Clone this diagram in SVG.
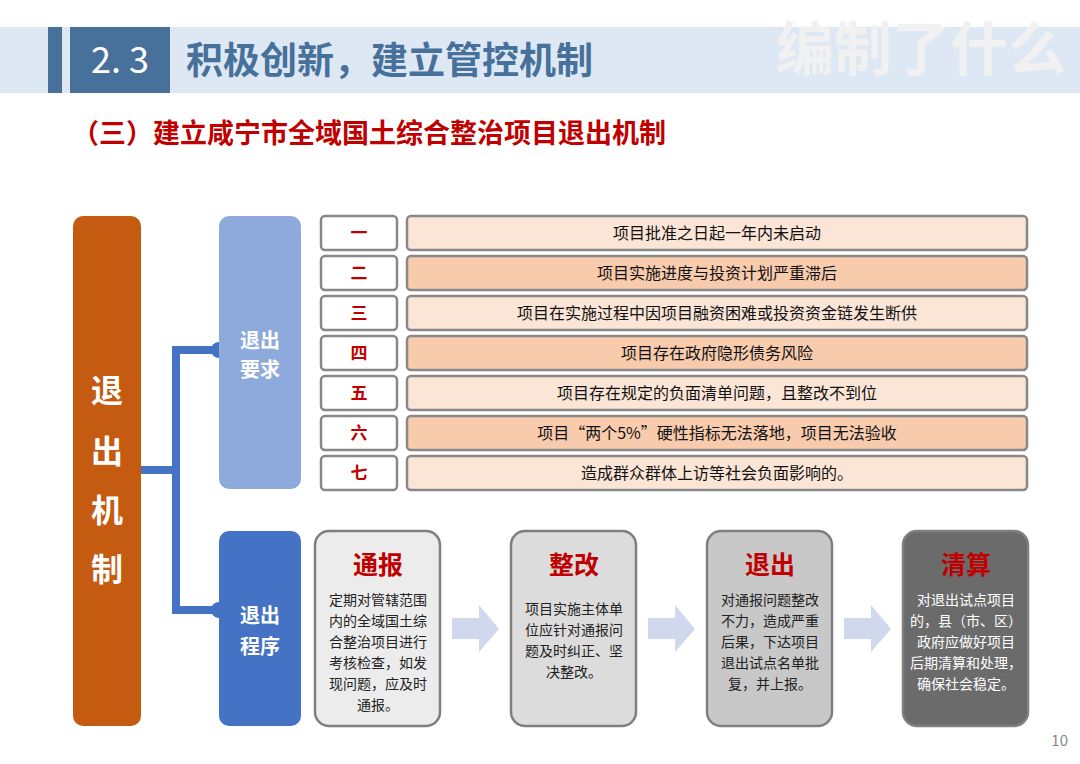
<svg xmlns="http://www.w3.org/2000/svg" width="1080" height="764" viewBox="0 0 1080 764">
<style>
text{font-family:"Noto Sans CJK SC","Liberation Sans",sans-serif}
.num{fill:#fff;stroke:#888;stroke-width:2.5}
.nt{fill:#c00000;font-size:17px;font-weight:bold;text-anchor:middle}
.la{fill:#fbe5d6;stroke:#888;stroke-width:2.5}
.lb{fill:#f8cbad;stroke:#888;stroke-width:2.5}
.ct{fill:#111;font-size:16px;text-anchor:middle}
.card{stroke:#7f7f7f;stroke-width:2.5}
.ch{fill:#c00000;font-size:25px;font-weight:bold;text-anchor:middle}
.cb{fill:#222;font-size:14px;text-anchor:middle}
.wt{fill:#fff;font-weight:bold;text-anchor:middle}
</style>
<rect width="1080" height="764" fill="#fff"/>
<rect x="0" y="27" width="1080" height="66" fill="#dde8f4"/>
<rect x="48" y="27" width="14" height="66" fill="#47709b"/>
<rect x="70" y="27" width="100" height="66" fill="#47709b"/>
<text x="120" y="73" font-size="36" fill="#fff" text-anchor="middle" font-family="Liberation Sans">2. 3</text>
<text x="186" y="74" font-size="37" font-weight="bold" fill="#47709b">积极创新，建立管控机制</text>
<text x="1066" y="70" font-size="58" font-weight="bold" fill="#f1f1f1" text-anchor="end">编制了什么</text>
<text x="72" y="143" font-size="27" font-weight="bold" fill="#c00000">（三）建立咸宁市全域国土综合整治项目退出机制</text>
<g id="connectors" fill="none" stroke="#4472c4" stroke-width="8">
<path d="M141 470H176M176 346V614M176 350H214M176 610H214"/>
<circle cx="219" cy="350" r="8" fill="#4472c4" stroke="none"/>
<circle cx="219" cy="610" r="8" fill="#4472c4" stroke="none"/>
</g>
<g id="main"><rect x="73" y="216" width="68" height="510" rx="10" fill="#c55a11"/>
<text class="wt" font-size="32"><tspan x="107" y="402">退</tspan><tspan x="107" y="463">出</tspan><tspan x="107" y="522">机</tspan><tspan x="107" y="581">制</tspan></text></g>
<g id="req"><rect x="219" y="216" width="82" height="273" rx="10" fill="#8eaadc"/>
<text class="wt" font-size="20"><tspan x="260" y="348">退出</tspan><tspan x="260" y="377">要求</tspan></text></g>
<g id="proc"><rect x="219" y="531" width="82" height="195" rx="10" fill="#4472c4"/>
<text class="wt" font-size="20"><tspan x="260" y="623">退出</tspan><tspan x="260" y="654">程序</tspan></text></g>
<g id="r1"><rect class="num" x="321" y="216" width="76" height="34" rx="4"/><text class="nt" x="359" y="239">一</text><rect class="la" x="407" y="216" width="620" height="34" rx="4"/><text class="ct" x="717" y="239">项目批准之日起一年内未启动</text></g>
<g id="r2"><rect class="num" x="321" y="256" width="76" height="34" rx="4"/><text class="nt" x="359" y="279">二</text><rect class="lb" x="407" y="256" width="620" height="34" rx="4"/><text class="ct" x="717" y="279">项目实施进度与投资计划严重滞后</text></g>
<g id="r3"><rect class="num" x="321" y="296" width="76" height="34" rx="4"/><text class="nt" x="359" y="319">三</text><rect class="la" x="407" y="296" width="620" height="34" rx="4"/><text class="ct" x="717" y="319">项目在实施过程中因项目融资困难或投资资金链发生断供</text></g>
<g id="r4"><rect class="num" x="321" y="336" width="76" height="34" rx="4"/><text class="nt" x="359" y="359">四</text><rect class="lb" x="407" y="336" width="620" height="34" rx="4"/><text class="ct" x="717" y="359">项目存在政府隐形债务风险</text></g>
<g id="r5"><rect class="num" x="321" y="376" width="76" height="34" rx="4"/><text class="nt" x="359" y="399">五</text><rect class="la" x="407" y="376" width="620" height="34" rx="4"/><text class="ct" x="717" y="399">项目存在规定的负面清单问题，且整改不到位</text></g>
<g id="r6"><rect class="num" x="321" y="416" width="76" height="34" rx="4"/><text class="nt" x="359" y="439">六</text><rect class="lb" x="407" y="416" width="620" height="34" rx="4"/><text class="ct" x="717" y="439">项目“两个5%”硬性指标无法落地，项目无法验收</text></g>
<g id="r7"><rect class="num" x="321" y="456" width="76" height="34" rx="4"/><text class="nt" x="359" y="479">七</text><rect class="la" x="407" y="456" width="620" height="34" rx="4"/><text class="ct" x="717" y="479">造成群众群体上访等社会负面影响的。</text></g>
<g id="c1"><rect class="card" x="315" y="531" width="125" height="195" rx="14" fill="#ececec"/><text class="ch" x="378" y="574">通报</text>
<text class="cb"><tspan x="378" y="605">定期对管辖范围</tspan><tspan x="378" y="626">内的全域国土综</tspan><tspan x="378" y="647">合整治项目进行</tspan><tspan x="378" y="668">考核检查，如发</tspan><tspan x="378" y="689">现问题，应及时</tspan><tspan x="378" y="710">通报。</tspan></text></g>
<g id="c2"><rect class="card" x="511" y="531" width="125" height="195" rx="14" fill="#dcdcdc"/><text class="ch" x="574" y="574">整改</text>
<text class="cb"><tspan x="574" y="614">项目实施主体单</tspan><tspan x="574" y="635">位应针对通报问</tspan><tspan x="574" y="656">题及时纠正、坚</tspan><tspan x="574" y="677">决整改。</tspan></text></g>
<g id="c3"><rect class="card" x="707" y="531" width="125" height="195" rx="14" fill="#c8c8c8"/><text class="ch" x="770" y="574">退出</text>
<text class="cb"><tspan x="770" y="605">对通报问题整改</tspan><tspan x="770" y="626">不力，造成严重</tspan><tspan x="770" y="647">后果，下达项目</tspan><tspan x="770" y="668">退出试点名单批</tspan><tspan x="770" y="689">复，并上报。</tspan></text></g>
<g id="c4"><rect class="card" x="903" y="531" width="125" height="195" rx="14" fill="#6b6b6b"/><text class="ch" x="966" y="574">清算</text>
<text class="cb" style="fill:#fff"><tspan x="966" y="605">对退出试点项目</tspan><tspan x="966" y="626">的，县（市、区）</tspan><tspan x="966" y="647">政府应做好项目</tspan><tspan x="966" y="668">后期清算和处理，</tspan><tspan x="966" y="689">确保社会稳定。</tspan></text></g>
<g id="arrows" fill="#d0d8ee">
<path d="M452 618H479V605L499 629L479 652V639H452Z"/>
<path d="M648 618H675V605L695 629L675 652V639H648Z"/>
<path d="M844 618H871V605L891 629L871 652V639H844Z"/>
</g>
<text x="1068" y="746" font-size="15" fill="#888" text-anchor="end" font-family="Liberation Sans">10</text>
</svg>
